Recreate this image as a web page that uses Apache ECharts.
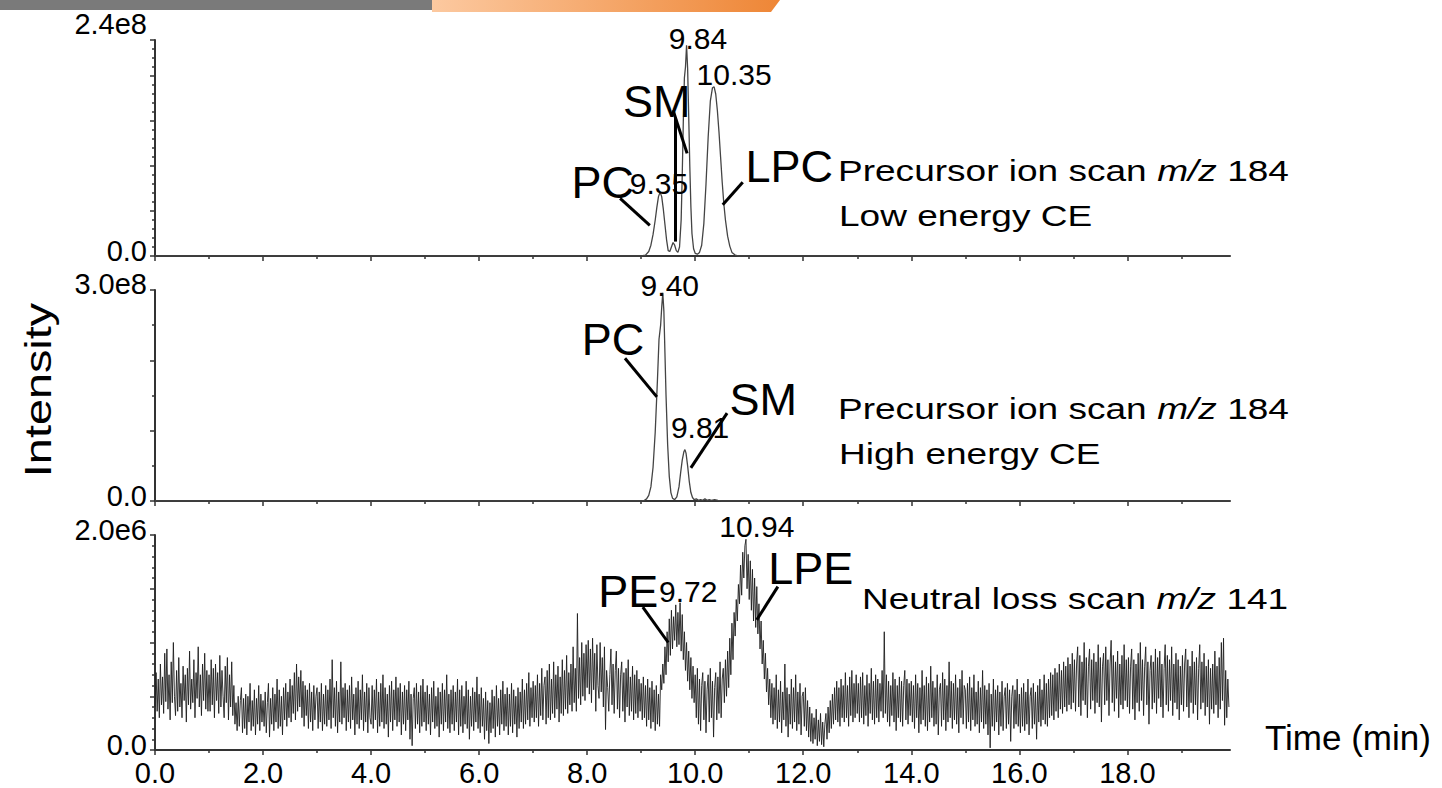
<!DOCTYPE html>
<html>
<head>
<meta charset="utf-8">
<script src="https://cdn.jsdelivr.net/npm/echarts@6/dist/echarts.min.js"></script>
<style>
  html, body { margin: 0; padding: 0; background: #fff; }
  #chart { width: 1442px; height: 788px; }
</style>
</head>
<body>
<div id="chart"></div>
<script>
// Lipid class profiling: three MS/MS scan modes recorded over the same LC run.

const TIME_MAX = 19.9;                       // end of the acquisition window (min)
const timeLabels = [0, 2, 4, 6, 8, 10, 12, 14, 16, 18];

// Precursor ion scan m/z 184, low collision energy (intensity in units of 1e8)
const lowCeTimes = [0.00, 9.00, 9.08, 9.14, 9.18, 9.22, 9.26, 9.29, 9.32, 9.35, 9.38, 9.41, 9.44, 9.47, 9.50,
  9.53, 9.56, 9.59, 9.62, 9.65, 9.68, 9.71, 9.74, 9.76, 9.78, 9.80, 9.82, 9.84, 9.86, 9.88, 9.90, 9.92, 9.94,
  9.97, 10.00, 10.04, 10.08, 10.12, 10.16, 10.20, 10.24, 10.28, 10.32, 10.35, 10.38, 10.41, 10.44, 10.47,
  10.50, 10.53, 10.56, 10.60, 10.64, 10.68, 10.74, 10.80, 19.90];
const lowCeValues = [0.00, 0.00, 0.01, 0.05, 0.12, 0.24, 0.40, 0.54, 0.66, 0.71, 0.66, 0.52, 0.35, 0.18, 0.06,
  0.05, 0.10, 0.15, 0.12, 0.06, 0.04, 0.10, 0.40, 0.90, 1.50, 1.98, 2.10, 2.34, 2.08, 1.55, 1.00, 0.55, 0.25,
  0.08, 0.03, 0.02, 0.04, 0.12, 0.36, 0.80, 1.32, 1.72, 1.87, 1.88, 1.80, 1.62, 1.38, 1.10,
  0.82, 0.58, 0.40, 0.22, 0.11, 0.04, 0.01, 0.00, 0.00];

// Precursor ion scan m/z 184, high collision energy (units of 1e8)
const highCeTimes = [0.00, 9.00, 9.06, 9.10, 9.14, 9.18, 9.22, 9.26, 9.30, 9.33, 9.36, 9.38, 9.40, 9.42, 9.44,
  9.46, 9.49, 9.52, 9.55, 9.58, 9.62, 9.66, 9.70, 9.73, 9.76, 9.79, 9.81, 9.83, 9.86, 9.89, 9.92, 9.95, 9.98,
  10.02, 10.06, 10.10, 10.14, 10.18, 10.22, 10.26, 10.30, 10.36, 10.42, 10.50, 19.90];
const highCeValues = [0.00, 0.00, 0.01, 0.03, 0.08, 0.20, 0.48, 0.98, 1.70, 2.30, 2.50, 2.75, 2.96, 2.70, 2.10,
  1.50, 0.80, 0.35, 0.12, 0.04, 0.02, 0.06, 0.20, 0.40, 0.58, 0.70, 0.73, 0.68, 0.50, 0.28, 0.12, 0.05, 0.02,
  0.03, 0.01, 0.02, 0.01, 0.03, 0.01, 0.02, 0.01, 0.02, 0.01, 0.00, 0.00];

// Neutral loss scan m/z 141 (units of 1e6): one row per minute, one scan every 0.02 min
const NL_SCAN_STEP = 0.02;
const neutralLossByMinute = [
  [0.40,0.72,0.36,0.66,0.30,0.80,0.42,0.68,0.34,0.90, 0.45,0.94,0.38,0.70,0.28,0.82,0.44,1.00,0.50,0.32,
   0.74,0.36,0.86,0.40,0.62,0.30,0.78,0.46,0.70,0.26, 0.76,0.42,0.92,0.38,0.66,0.44,0.84,0.30,0.72,0.48,
   0.96,0.40,0.70,0.32,0.80,0.46,0.90,0.38,0.74,0.36],
  [0.70,0.36,0.84,0.42,0.76,0.30,0.80,0.46,0.72,0.34, 0.88,0.40,0.74,0.50,0.30,0.78,0.44,0.86,0.28,0.70,
   0.40,0.82,0.32,0.60,0.24,0.44,0.18,0.50,0.22,0.46, 0.58,0.16,0.48,0.20,0.52,0.14,0.50,0.26,0.62,0.18,
   0.46,0.22,0.56,0.14,0.48,0.24,0.60,0.18,0.52,0.26],
  [0.46,0.22,0.54,0.16,0.44,0.62,0.12,0.48,0.24,0.58, 0.18,0.52,0.26,0.66,0.20,0.56,0.22,0.50,0.14,0.58,
   0.28,0.62,0.22,0.54,0.30,0.66,0.26,0.60,0.34,0.72, 0.28,0.80,0.36,0.68,0.40,0.74,0.30,0.64,0.22,0.60,
   0.32,0.56,0.20,0.62,0.26,0.54,0.18,0.60,0.28,0.50],
  [0.58,0.20,0.54,0.26,0.62,0.18,0.52,0.24,0.60,0.22, 0.56,0.28,0.66,0.20,0.84,0.30,0.58,0.22,0.64,0.16,
   0.54,0.26,0.82,0.24,0.58,0.30,0.62,0.18,0.56,0.26, 0.60,0.20,0.68,0.28,0.52,0.14,0.58,0.24,0.64,0.20,
   0.56,0.28,0.70,0.18,0.54,0.26,0.62,0.16,0.58,0.30],
  [0.24,0.60,0.20,0.56,0.28,0.66,0.16,0.54,0.22,0.62, 0.26,0.70,0.20,0.58,0.24,0.52,0.12,0.60,0.26,0.64,
   0.18,0.56,0.28,0.68,0.22,0.58,0.26,0.62,0.14,0.54, 0.24,0.60,0.18,0.56,0.28,0.64,0.10,0.52,0.04,0.48,
   0.58,0.20,0.62,0.24,0.54,0.16,0.60,0.22,0.66,0.26],
  [0.54,0.18,0.60,0.24,0.52,0.14,0.58,0.26,0.64,0.20, 0.50,0.22,0.58,0.12,0.54,0.24,0.62,0.18,0.56,0.26,
   0.70,0.20,0.52,0.16,0.56,0.24,0.60,0.18,0.54,0.26, 0.66,0.14,0.56,0.22,0.60,0.16,0.50,0.24,0.64,0.20,
   0.56,0.10,0.50,0.22,0.58,0.18,0.54,0.26,0.68,0.20],
  [0.52,0.16,0.58,0.22,0.48,0.10,0.54,0.18,0.46,0.06, 0.44,0.16,0.56,0.20,0.50,0.12,0.60,0.22,0.48,0.14,
   0.56,0.24,0.64,0.18,0.52,0.22,0.58,0.14,0.52,0.22, 0.62,0.16,0.56,0.24,0.50,0.12,0.58,0.20,0.54,0.26,
   0.66,0.20,0.56,0.24,0.62,0.28,0.72,0.22,0.58,0.30],
  [0.64,0.26,0.60,0.30,0.70,0.22,0.62,0.32,0.76,0.28, 0.60,0.68,0.24,0.74,0.30,0.80,0.28,0.66,0.34,0.82,
   0.30,0.70,0.38,0.78,0.26,0.68,0.34,0.84,0.32,0.74, 0.38,0.88,0.34,0.72,0.42,0.80,0.36,0.96,0.44,0.76,
   0.36,1.27,0.48,0.86,0.42,1.00,0.50,0.90,0.46,0.98],
  [0.58,1.02,0.52,0.94,0.44,1.04,0.56,0.90,0.36,0.98, 0.60,0.48,1.00,0.54,0.86,0.40,0.96,0.19,0.74,0.58,
   0.36,0.70,0.94,0.42,0.80,0.34,0.74,0.92,0.38,0.76, 0.30,0.70,0.82,0.36,0.72,0.26,0.76,0.40,0.84,0.32,
   0.68,0.36,0.78,0.28,0.70,0.34,0.74,0.30,0.66,0.36],
  [0.62,0.28,0.68,0.30,0.60,0.22,0.66,0.28,0.58,0.20, 0.64,0.26,0.56,0.18,0.60,0.24,0.52,0.22,0.70,0.56,
   0.80,0.62,0.96,0.70,1.10,0.82,1.22,0.88,1.30,0.94, 1.24,1.02,1.35,0.96,1.28,0.98,1.37,0.92,1.26,0.84,
   1.10,0.74,1.00,0.64,0.92,0.56,0.86,0.48,0.78,0.44],
  [0.70,0.30,0.76,0.24,0.66,0.18,0.60,0.72,0.28,0.64, 0.16,0.56,0.70,0.26,0.76,0.30,0.64,0.12,0.58,0.72,
   0.28,0.68,0.34,0.82,0.30,0.66,0.76,0.44,0.84,0.50, 0.92,0.58,1.04,0.70,1.18,0.84,1.28,1.06,1.40,1.20,
   1.54,1.36,1.72,1.44,1.84,1.60,1.90,1.96,1.50,1.82],
  [1.40,1.76,1.30,1.68,1.20,1.60,1.14,1.52,1.08,1.36, 0.94,1.20,0.80,1.02,0.66,0.90,0.54,0.76,0.42,0.66,
   0.30,0.62,0.24,0.58,0.28,0.70,0.20,0.56,0.26,0.64, 0.16,0.54,0.28,0.80,0.22,0.58,0.12,0.52,0.24,0.66,
   0.20,0.58,0.26,0.70,0.18,0.54,0.24,0.62,0.14,0.50],
  [0.54,0.22,0.58,0.18,0.46,0.12,0.40,0.08,0.34,0.06, 0.30,0.10,0.38,0.04,0.28,0.08,0.34,0.05,0.26,0.03,
   0.24,0.34,0.10,0.40,0.16,0.46,0.20,0.52,0.24,0.58, 0.28,0.64,0.26,0.58,0.22,0.66,0.30,0.60,0.26,0.72,
   0.30,0.60,0.22,0.68,0.32,0.74,0.26,0.62,0.30,0.70],
  [0.34,0.62,0.26,0.68,0.30,0.72,0.24,0.60,0.32,0.70, 0.22,0.62,0.34,0.76,0.28,0.64,0.24,0.70,0.30,0.66,
   0.26,0.62,0.36,0.74,0.30,1.10,0.34,0.70,0.26,0.64, 0.22,0.60,0.32,0.72,0.26,0.66,0.18,0.60,0.30,0.68,
   0.26,0.64,0.22,0.60,0.74,0.28,0.66,0.24,0.62,0.32],
  [0.64,0.26,0.60,0.20,0.70,0.30,0.62,0.16,0.58,0.24, 0.74,0.28,0.60,0.22,0.68,0.18,0.62,0.26,0.78,0.30,
   0.64,0.22,0.58,0.24,0.70,0.14,0.56,0.62,0.22,0.72, 0.28,0.66,0.18,0.60,0.26,0.82,0.30,0.64,0.20,0.62,
   0.28,0.70,0.24,0.58,0.16,0.66,0.30,0.74,0.24,0.60],
  [0.56,0.20,0.62,0.26,0.68,0.18,0.58,0.28,0.70,0.22, 0.54,0.24,0.64,0.16,0.58,0.26,0.74,0.20,0.60,0.24,
   0.56,0.14,0.62,0.02,0.52,0.22,0.66,0.18,0.56,0.26, 0.60,0.14,0.54,0.22,0.64,0.18,0.50,0.58,0.20,0.62,
   0.24,0.56,0.08,0.50,0.60,0.20,0.56,0.24,0.66,0.22],
  [0.52,0.16,0.58,0.22,0.62,0.18,0.54,0.24,0.66,0.14, 0.50,0.58,0.20,0.62,0.24,0.54,0.10,0.60,0.26,0.66,
   0.22,0.56,0.28,0.70,0.24,0.62,0.22,0.66,0.30,0.72, 0.32,0.70,0.28,0.76,0.36,0.72,0.30,0.80,0.38,0.74,
   0.34,0.82,0.40,0.78,0.36,0.86,0.42,0.80,0.38,0.90],
  [0.44,0.84,0.36,0.80,0.96,0.40,0.88,0.32,0.82,0.46, 1.00,0.42,0.86,0.30,0.78,0.94,0.38,0.84,0.46,0.90,
   0.34,0.82,0.44,0.98,0.40,0.86,0.26,0.78,0.90,0.42, 0.96,0.46,0.84,0.32,0.80,1.02,0.44,0.88,0.36,0.82,
   0.48,0.92,0.30,0.80,0.42,0.88,0.38,0.98,0.46,0.84],
  [0.40,0.86,0.34,0.78,0.94,0.38,0.84,0.28,0.80,0.44, 0.90,0.36,1.00,0.46,0.84,0.32,0.78,0.96,0.42,0.82,
   0.24,0.74,0.88,0.38,0.82,0.44,0.94,0.34,0.86,0.48, 0.92,0.40,0.80,0.30,0.76,0.98,0.42,0.88,0.36,0.84,
   0.46,0.96,0.32,0.80,0.44,0.90,0.38,0.84,0.28,0.78],
  [0.42,0.88,0.36,0.80,0.94,0.40,0.84,0.30,0.78,0.44, 0.92,0.34,0.82,0.42,0.86,0.28,0.76,0.98,0.38,0.82,
   0.44,0.90,0.32,0.78,0.40,0.84,0.24,0.76,0.38,0.80, 0.34,0.92,0.42,0.78,0.30,0.86,0.38,1.00,0.46,1.04,
   0.23,0.74,0.30,0.66,0.40]
];

// Per-panel intensity axes: top value, exponent, major step, minor subdivisions
const panelTop = [2.4, 3.0, 2.0];
const panelExp = [8, 8, 6];
const panelStep = [0.5, 1.0, 0.5];
const panelMinor = [5, 2, 5];

const scanTitles = [
  ['Precursor ion scan {i|m/z} 184', 'Low energy CE'],
  ['Precursor ion scan {i|m/z} 184', 'High energy CE'],
  ['Neutral loss scan {i|m/z} 141']
];

// Apex retention times, with the anchor of each label in data units
const peakTags = [
  { panel: 0, apex: 9.84, at: [10.05, 2.42] },
  { panel: 0, apex: 10.35, at: [10.72, 2.02] },
  { panel: 0, apex: 9.35, at: [9.33, 0.81] },
  { panel: 1, apex: 9.40, at: [9.53, 3.06] },
  { panel: 1, apex: 9.81, at: [10.09, 1.04] },
  { panel: 2, apex: 10.94, at: [11.14, 2.08] },
  { panel: 2, apex: 9.72, at: [9.87, 1.47] }
];
// Lipid class names and their pointer lines
const classTags = [
  { panel: 0, text: 'PC', at: [8.29, 0.82] },
  { panel: 0, text: 'SM', at: [9.29, 1.72] },
  { panel: 0, text: 'LPC', at: [11.74, 0.99] },
  { panel: 1, text: 'PC', at: [8.48, 2.29] },
  { panel: 1, text: 'SM', at: [11.26, 1.44] },
  { panel: 2, text: 'PE', at: [8.76, 1.47] },
  { panel: 2, text: 'LPE', at: [12.14, 1.69] }
];
const pointers = [
  { panel: 0, from: [8.61, 0.64], to: [9.16, 0.34] },
  { panel: 0, from: [9.63, 1.54], to: [9.63, 0.16] },
  { panel: 0, from: [9.59, 1.62], to: [9.85, 1.14] },
  { panel: 0, from: [10.88, 0.82], to: [10.51, 0.57] },
  { panel: 1, from: [8.70, 2.03], to: [9.29, 1.48] },
  { panel: 1, from: [10.59, 1.25], to: [9.92, 0.47] },
  { panel: 2, from: [9.03, 1.33], to: [9.50, 1.00] },
  { panel: 2, from: [11.53, 1.52], to: [11.14, 1.21] }
];

// ---------------------------------------------------------------------------
const FONT = '"Liberation Sans", Arial, Helvetica, sans-serif';
const AXIS_COLOR = '#333';
const panels = [0, 1, 2];
const gridBoxes = [
  { top: 40, height: 216 },
  { top: 290, height: 211 },
  { top: 535, height: 215 }
];
const nameGaps = [16, 6, 5];

const zip = (ts, vs) => ts.map((t, i) => [t, vs[i]]);
const neutralLossPairs = [];
neutralLossByMinute.forEach((row, minute) => {
  row.forEach((v, k) => {
    neutralLossPairs.push([+(minute + k * NL_SCAN_STEP).toFixed(2), v]);
  });
});

const traces = [
  { data: zip(lowCeTimes, lowCeValues), color: '#444', width: 1.3 },
  { data: zip(highCeTimes, highCeValues), color: '#444', width: 1.3 },
  { data: neutralLossPairs, color: '#1e1e1e', width: 0.9 }
];

const tickLine = { color: AXIS_COLOR, width: 1.5 };

const xAxes = panels.map(i => ({
  type: 'value', gridIndex: i, min: 0, max: TIME_MAX, interval: 2,
  axisLine: { show: true, onZero: false, lineStyle: { color: AXIS_COLOR, width: 2 } },
  axisTick: { show: true, customValues: timeLabels, length: 5, lineStyle: tickLine },
  minorTick: { show: true, splitNumber: 2, length: 3, lineStyle: tickLine },
  axisLabel: {
    show: i === 2, customValues: timeLabels, formatter: v => v.toFixed(1),
    fontSize: 29, fontFamily: FONT, color: '#000', margin: 8, lineHeight: 29
  },
  splitLine: { show: false }, minorSplitLine: { show: false },
  name: i === 2 ? 'Time (min)' : '', nameLocation: 'end', nameGap: 35, nameMoveOverlap: false,
  nameTextStyle: { fontSize: 35, fontFamily: FONT, color: '#000', align: 'left',
    verticalAlign: 'bottom', lineHeight: 26 }
}));

const yAxes = panels.map(i => ({
  type: 'value', gridIndex: i, min: 0, max: panelTop[i], interval: panelStep[i],
  axisLine: { show: true, onZero: false, lineStyle: { color: AXIS_COLOR, width: 2 } },
  axisTick: { show: true, length: 5, lineStyle: tickLine },
  minorTick: { show: true, splitNumber: panelMinor[i], length: 3, lineStyle: tickLine },
  axisLabel: {
    customValues: [0], formatter: v => v.toFixed(1), fontSize: 29, fontFamily: FONT,
    color: '#000', margin: 8, verticalAlign: 'bottom', lineHeight: 10
  },
  splitLine: { show: false }, minorSplitLine: { show: false },
  name: panelTop[i].toFixed(1) + 'e' + panelExp[i], nameLocation: 'end', nameGap: nameGaps[i],
  nameMoveOverlap: false,
  nameTextStyle: { fontSize: 29, fontFamily: FONT, color: '#000', align: 'right',
    verticalAlign: 'middle', lineHeight: 24, padding: [0, 8, 0, 0] }
}));

const traceSeries = panels.map(i => ({
  type: 'line', xAxisIndex: i, yAxisIndex: i, data: traces[i].data,
  symbol: 'none', showSymbol: false, clip: true, silent: true,
  lineStyle: { color: traces[i].color, width: traces[i].width },
  emphasis: { disabled: true }
}));

const labelSeries = panels.map(i => ({
  type: 'scatter', xAxisIndex: i, yAxisIndex: i, clip: false, silent: true, z: 5,
  symbolSize: 0, itemStyle: { color: 'transparent', opacity: 1 },
  emphasis: { disabled: true },
  label: { show: true, position: 'inside', color: '#000', opacity: 1, fontFamily: FONT,
    textBorderWidth: 0 },
  data: [
    ...peakTags.filter(p => p.panel === i).map(p => ({
      value: p.at, label: { formatter: p.apex.toFixed(2), fontSize: 30, color: '#000' }
    })),
    ...classTags.filter(c => c.panel === i).map(c => ({
      value: c.at, label: { formatter: c.text, fontSize: 45, color: '#000' }
    }))
  ],
  markLine: {
    silent: true, symbol: ['none', 'none'], animation: false,
    label: { show: false }, emphasis: { disabled: true },
    lineStyle: { color: '#000', width: 3, type: 'solid', opacity: 1 },
    data: pointers.filter(p => p.panel === i).map(p => [{ coord: p.from }, { coord: p.to }])
  }
}));

// Scan-mode captions to the right of each trace
const captionSpots = [
  [[838, 170], [839, 215]],
  [[838, 408], [839, 453]],
  [[862, 598]]
];
const captionStyle = { fontSize: 30, fontFamily: FONT, fill: '#000' };
const captions = [];
scanTitles.forEach((lines, i) => {
  lines.forEach((text, j) => {
    captions.push({
      type: 'text', x: captionSpots[i][j][0], y: captionSpots[i][j][1], scaleX: 1.235, silent: true,
      style: Object.assign({
        text, verticalAlign: 'middle', align: 'left',
        rich: { i: Object.assign({ fontStyle: 'italic' }, captionStyle) }
      }, captionStyle)
    });
  });
});

const chart = echarts.init(document.getElementById('chart'), null, { renderer: 'svg' });
chart.setOption({
  animation: false,
  backgroundColor: '#fff',
  textStyle: { fontFamily: FONT },
  grid: gridBoxes.map(g => Object.assign({ left: 155, width: 1075, containLabel: false, outerBoundsMode: 'none' }, g)),
  xAxis: xAxes,
  yAxis: yAxes,
  series: [...traceSeries, ...labelSeries],
  graphic: [
    { type: 'rect', silent: true, shape: { x: 0, y: 0, width: 432, height: 10 }, style: { fill: '#7a7a7a' } },
    { type: 'polygon', silent: true, shape: { points: [[432, 0], [780, 0], [771, 12], [432, 12]] },
      style: { fill: new echarts.graphic.LinearGradient(0, 0, 1, 0, [
        { offset: 0, color: '#fcc9a0' }, { offset: 1, color: '#ee8636' }]) } },
    ...captions,
    { type: 'text', x: 38, y: 390, rotation: Math.PI / 2, scaleX: 1.3, silent: true,
      style: { text: 'Intensity', fontSize: 36, fontFamily: FONT, fill: '#000', align: 'center', verticalAlign: 'middle' } }
  ]
});
</script>
</body>
</html>
